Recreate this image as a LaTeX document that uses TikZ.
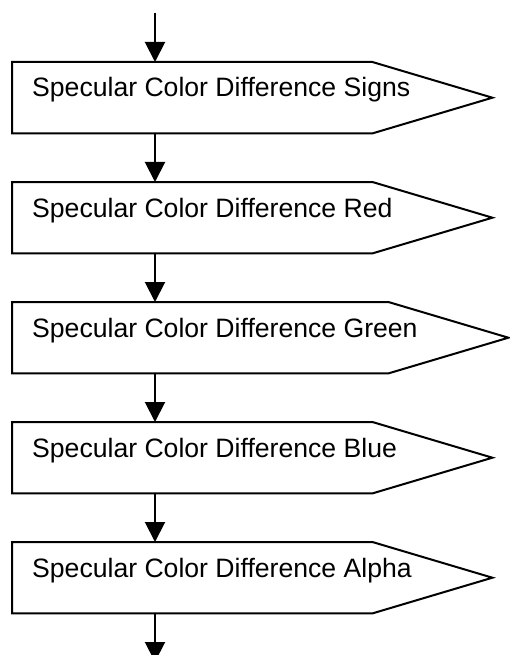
\documentclass[tikz,border=0pt]{standalone}
\usepackage{fontspec}
\setmainfont{Liberation Sans}
\usetikzlibrary{arrows.meta,calc}
\begin{document}
\begin{tikzpicture}[x=1pt,y=-1pt,
  outline/.style={draw=black,line width=2pt},
  body/.style={inner sep=0pt,minimum height=71pt,anchor=north west},
  lbl/.style={inner sep=0pt,anchor=base west,font=\fontsize{26.6}{32}\selectfont},
  arr/.style={draw=black,line width=2pt,-{Triangle[width=20pt,length=20pt]}}]
\useasboundingbox (0,0) rectangle (509,655);
\coordinate (start) at (155,13);
\coordinate (end) at (155,662);
\foreach \i/\y/\w/\t in {1/62/360/Signs,2/182/360/Red,3/302/376/Green,4/422/360/Blue,5/542/360/Alpha}{
  \node[body,minimum width=\w pt] (b\i) at (12,\y) {};
  \draw[outline] (b\i.north west) -- (b\i.north east) -- ($(b\i.east)+(120,0)$) -- (b\i.south east) -- (b\i.south west) -- cycle;
  \node[lbl] (t\i) at (32,\y+35) {Specular Color Difference \t};
}
\draw[arr] (start) -- (b1.north -| start);
\draw[arr] (b1.south -| start) -- (b2.north -| start);
\draw[arr] (b2.south -| start) -- (b3.north -| start);
\draw[arr] (b3.south -| start) -- (b4.north -| start);
\draw[arr] (b4.south -| start) -- (b5.north -| start);
\draw[arr] (b5.south -| start) -- (end);
\end{tikzpicture}
\end{document}
